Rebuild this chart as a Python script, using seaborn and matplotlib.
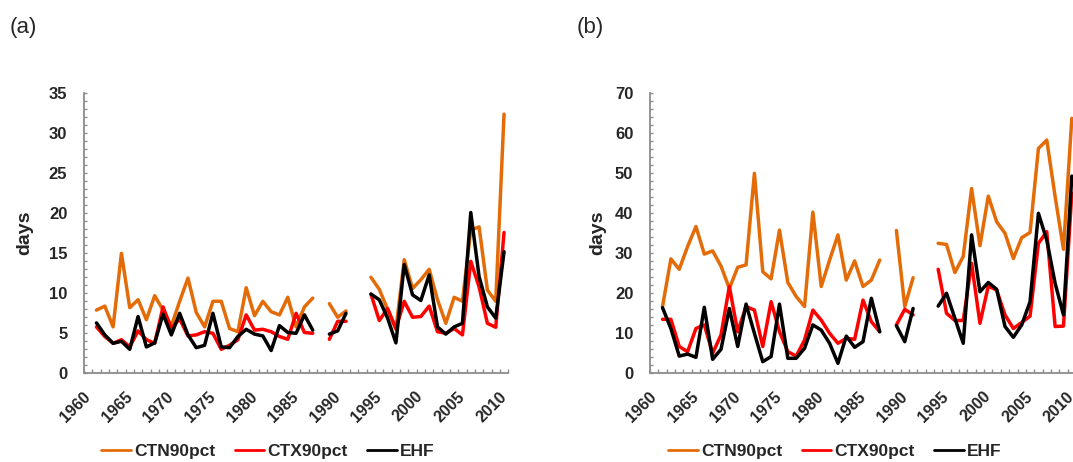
import numpy as np
import pandas as pd
import matplotlib
matplotlib.use("Agg")
import matplotlib.pyplot as plt
from matplotlib.ticker import MultipleLocator, FixedLocator
from matplotlib.lines import Line2D
import seaborn as sns

nan = np.nan
years = list(range(1961, 2011))
series_names = ["CTN90pct", "CTX90pct", "EHF"]
series_colors = {"CTN90pct": "#E36C09", "CTX90pct": "#FF0000", "EHF": "#000000"}

# ---- panel (a) ----
a_ctn = [7.9, 8.4, 5.8, 15.0, 8.2, 9.2, 6.7, 9.7, 7.9, 5.9, 9.0, 11.9, 7.6, 5.8, 9.0, 9.0, 5.6, 5.2,
         10.7, 7.2, 9.0, 7.7, 7.3, 9.5, 5.8, 8.3, 9.4, nan, 8.7, 7.0, 7.8, nan, nan, 12.0, 10.5, 8.0,
         5.5, 14.2, 10.6, 11.7, 13.0, 9.2, 6.25, 9.5, 9.0, 17.9, 18.3, 10.4, 9.0, 32.4]
a_ctx = [5.8, 4.6, 3.75, 4.2, 3.3, 5.3, 4.2, 3.75, 8.3, 5.6, 6.8, 4.67, 4.8, 5.2, 5.0, 3.0, 3.5, 4.2,
         7.3, 5.4, 5.5, 5.2, 4.6, 4.25, 7.5, 5.1, 5.0, nan, 4.25, 6.5, 6.5, nan, nan, 9.9, 6.6, 8.1,
         5.6, 9.0, 7.0, 7.1, 8.4, 5.2, 5.0, 5.6, 4.8, 14.0, 10.8, 6.25, 5.75, 17.6]
a_ehf = [6.3, 4.8, 3.75, 4.0, 3.0, 7.1, 3.3, 3.8, 7.4, 4.8, 7.5, 4.8, 3.2, 3.5, 7.5, 3.3, 3.2, 4.6,
         5.5, 4.9, 4.67, 2.85, 5.96, 5.1, 5.0, 7.3, 5.4, nan, 4.9, 5.3, 7.5, nan, nan, 9.9, 9.2, 6.9,
         3.8, 13.6, 9.8, 9.1, 12.3, 5.8, 4.9, 5.8, 6.25, 20.1, 12.1, 8.3, 6.9, 15.2]

# ---- panel (b) ----
b_ctn = [16.7, 28.6, 26.0, 31.7, 36.7, 29.8, 30.6, 26.8, 21.2, 26.5, 27.1, 50.0, 25.4, 23.6, 35.8,
         22.7, 19.2, 16.7, 40.3, 21.7, 28.3, 34.6, 23.3, 28.1, 21.7, 23.3, 28.3, nan, 35.7, 16.7,
         23.9, nan, nan, 32.5, 32.2, 25.2, 29.2, 46.2, 31.9, 44.3, 37.9, 35.0, 28.7, 33.9, 35.2,
         56.2, 58.3, 44.2, 31.0, 63.75]
b_ctx = [13.5, 13.5, 6.7, 5.4, 11.2, 12.1, 5.0, 9.6, 21.7, 10.4, 16.7, 15.8, 6.7, 17.9, 10.4, 5.4,
         4.3, 8.3, 15.8, 13.3, 10.0, 7.5, 8.75, 8.5, 18.3, 12.9, 10.4, nan, 12.1, 16.0, 14.6, nan,
         nan, 26.0, 15.0, 13.2, 13.2, 27.5, 12.5, 21.8, 20.8, 14.6, 11.2, 12.7, 14.3, 32.5, 35.4,
         11.7, 11.8, 45.0]
b_ehf = [16.4, 11.2, 4.3, 4.8, 4.0, 16.5, 3.5, 6.0, 16.2, 6.7, 17.3, 10.0, 2.9, 4.2, 17.3, 3.75,
         3.75, 6.25, 12.1, 10.8, 7.5, 2.5, 9.3, 6.5, 7.9, 18.75, 10.4, nan, 11.9, 7.9, 16.2, nan,
         nan, 16.8, 20.0, 13.75, 7.5, 34.6, 20.4, 22.7, 21.0, 11.7, 9.0, 12.1, 17.9, 40.0, 33.3,
         22.5, 14.6, 49.3]

xtick_labels = [str(y) for y in range(1960, 2011, 5)]


def long_frame(ctn, ctx, ehf):
    """Tidy table; consecutive non-missing years share a segment id so gaps stay open."""
    frames = []
    for name, vals in zip(series_names, [ctn, ctx, ehf]):
        df = pd.DataFrame({"year": years, "days": vals})
        df["series"] = name
        df["segment"] = df["days"].isna().cumsum()
        frames.append(df.dropna())
    out = pd.concat(frames, ignore_index=True)
    out["unit"] = out["series"] + "_" + out["segment"].astype(str)
    return out


sns.set_theme(style="white")
plt.rcParams["font.family"] = ["Liberation Sans", "DejaVu Sans"]

fig = plt.figure(figsize=(10.73, 4.62), dpi=100)
W, H = 1073.0, 462.0
axes_px = [(84, 93.3, 424.2, 280.0), (650, 93.3, 426.0, 280.0)]
ymax = [35, 70]
ymajor = [5, 10]
yminor = [1, 2]
datasets = [(a_ctn, a_ctx, a_ehf), (b_ctn, b_ctx, b_ehf)]
panel_tags = ["(a)", "(b)"]
tag_x = [10, 577]
ylabel_x = [25, 598]
spine_gray = "#8C8C8C"

for i in range(2):
    l, t, w, h = axes_px[i]
    ax = fig.add_axes([l / W, (H - t - h) / H, w / W, h / H])
    df = long_frame(*datasets[i])
    sns.lineplot(data=df, x="year", y="days", hue="series", units="unit", estimator=None,
                 palette=series_colors, hue_order=series_names, linewidth=2.5,
                 legend=False, ax=ax, sort=True)
    ax.set_xlim(1959.5, 2010.5)
    ax.set_ylim(0, ymax[i])
    ax.set_xlabel("")
    ax.set_ylabel("")

    for side in ["top", "right"]:
        ax.spines[side].set_visible(False)
    for side in ["left", "bottom"]:
        ax.spines[side].set_color(spine_gray)
        ax.spines[side].set_linewidth(1.3)

    # y axis: labelled majors plus unlabelled minors, all pointing inward
    ax.yaxis.set_major_locator(MultipleLocator(ymajor[i]))
    ax.yaxis.set_minor_locator(MultipleLocator(yminor[i]))
    ax.tick_params(axis="y", which="both", direction="in", length=2.5, width=1.0,
                   color=spine_gray, left=True, pad=12)
    ax.tick_params(axis="y", which="major", labelsize=12)
    for lab in ax.get_yticklabels():
        lab.set_fontweight("bold")

    # x axis: tick marks between years, labels every five years at year centres
    ax.xaxis.set_major_locator(FixedLocator(list(range(1960, 2011, 5))))
    ax.xaxis.set_minor_locator(FixedLocator(list(np.arange(1959.5, 2011.0, 1.0))))
    ax.set_xticks(list(range(1960, 2011, 5)))
    ax.set_xticklabels(xtick_labels, rotation=45, ha="right", va="center",
                       rotation_mode="anchor", fontsize=11.5, fontweight="bold")
    ax.tick_params(axis="x", which="major", length=0, pad=15, bottom=True)
    ax.tick_params(axis="x", which="minor", direction="in", length=3, width=1.0,
                   color=spine_gray, bottom=True)
    ax.grid(False)

    fig.text(ylabel_x[i] / W, (H - 233) / H, "days", rotation=90, ha="center", va="center",
             fontsize=14, fontweight="bold")
    fig.text(tag_x[i] / W, (H - 28) / H, panel_tags[i], ha="left", va="center", fontsize=16)

    handles = [Line2D([], [], color=series_colors[n], linewidth=2.0) for n in series_names]
    cx = (l + w / 2 - 28) / W
    fig.legend(handles, series_names, loc="center", bbox_to_anchor=(cx, (H - 451) / H),
               ncol=3, frameon=False, handlelength=1.7, handletextpad=0.2,
               columnspacing=1.1, prop={"weight": "bold", "size": 12.5})

fig.savefig("out.png", dpi=100)
